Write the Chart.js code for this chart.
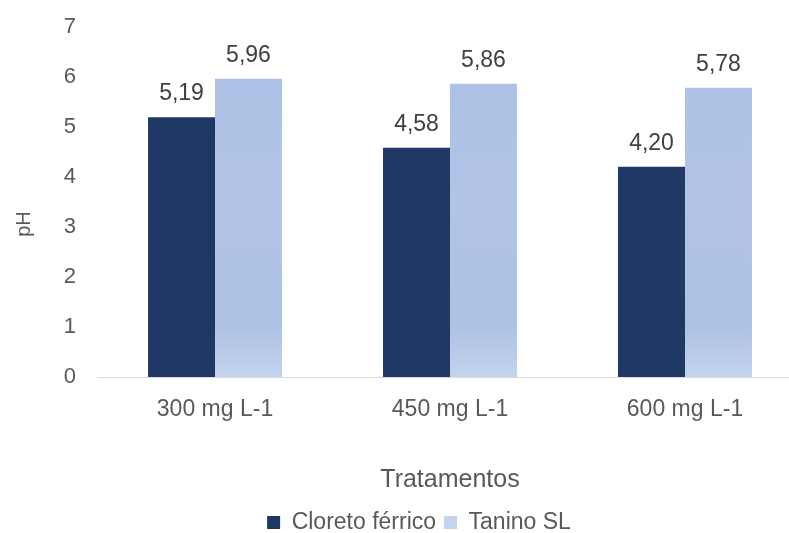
<!DOCTYPE html>
<html>
<head>
<meta charset="utf-8">
<script src="https://cdn.jsdelivr.net/npm/chart.js@4.4.1/dist/chart.umd.min.js"></script>
<style>
  html, body { margin: 0; padding: 0; background: #ffffff; overflow: hidden; }
  #wrap { width: 838px; height: 544px; }
</style>
</head>
<body>
<div id="wrap"><canvas id="c" width="838" height="544"></canvas></div>
<script>
// Tratamentos (dosagem) e pH medido para cada coagulante
const categories = ['300 mg L-1', '450 mg L-1', '600 mg L-1'];
const cloretoFerrico = [5.19, 4.58, 4.20];
const taninoSL = [5.96, 5.86, 5.78];
const yTicks = [0, 1, 2, 3, 4, 5, 6, 7];

const FONT = 'Arial, "Liberation Sans", sans-serif';

// Rótulos de valor acima de cada barra, com vírgula decimal
const valueLabels = {
  id: 'valueLabels',
  afterDatasetsDraw(chart) {
    const ctx = chart.ctx;
    ctx.save();
    ctx.font = '23px ' + FONT;
    ctx.fillStyle = '#404040';
    ctx.textAlign = 'center';
    ctx.textBaseline = 'alphabetic';
    chart.data.datasets.forEach((ds, di) => {
      chart.getDatasetMeta(di).data.forEach((bar, i) => {
        const txt = ds.data[i].toFixed(2).replace('.', ',');
        ctx.fillText(txt, bar.x, bar.y - 17);
      });
    });
    ctx.restore();
  }
};

function taninoFill(context) {
  const area = context.chart.chartArea;
  if (!area) return '#ABC0E6';
  const g = context.chart.ctx.createLinearGradient(0, area.top, 0, area.bottom);
  g.addColorStop(0, '#ABC0E6');
  g.addColorStop(0.5, '#B1C4E6');
  g.addColorStop(0.85, '#ADC1E3');
  g.addColorStop(1, '#C4D3EE');
  return g;
}

new Chart(document.getElementById('c'), {
  type: 'bar',
  data: {
    labels: categories,
    datasets: [
      { label: 'Cloreto férrico', data: cloretoFerrico, backgroundColor: '#203864',
        categoryPercentage: 0.57, barPercentage: 1.0 },
      { label: 'Tanino SL', data: taninoSL, backgroundColor: taninoFill,
        categoryPercentage: 0.57, barPercentage: 1.0 }
    ]
  },
  options: {
    responsive: false,
    animation: false,
    layout: { padding: { top: 16, left: 0, right: 0, bottom: 0 } },
    plugins: {
      tooltip: { enabled: false },
      legend: {
        position: 'bottom',
        labels: {
          font: { family: FONT, size: 23 },
          color: '#595959',
          boxWidth: 13,
          boxHeight: 13,
          padding: 8
        }
      }
    },
    scales: {
      x: {
        grid: { display: false },
        border: { color: '#D9D9D9', width: 1 },
        afterFit(scale) { scale.height = 126; },
        ticks: { font: { family: FONT, size: 23 }, color: '#595959', padding: 11 },
        title: { display: true, text: 'Tratamentos', font: { family: FONT, size: 25 },
                 color: '#595959', padding: { top: 10, bottom: 8 } }
      },
      y: {
        min: 0, max: 7,
        grid: { display: false },
        border: { display: false },
        afterBuildTicks(scale) { scale.ticks = yTicks.map(v => ({ value: v })); },
        afterFit(scale) { scale.width = 97.5; },
        ticks: { font: { family: FONT, size: 22 }, color: '#595959', padding: 13.5 },
        // trailing spaces push the rotated title slightly below the axis middle
        title: { display: true, text: 'pH        ', font: { family: FONT, size: 20 },
                 color: '#595959', padding: { top: 12, bottom: 0 } }
      },
      yRight: {
        position: 'right',
        display: true,
        grid: { display: false },
        border: { display: false },
        ticks: { display: false },
        afterFit(scale) { scale.width = 35.5; }
      }
    }
  },
  plugins: [valueLabels]
});
</script>
</body>
</html>
